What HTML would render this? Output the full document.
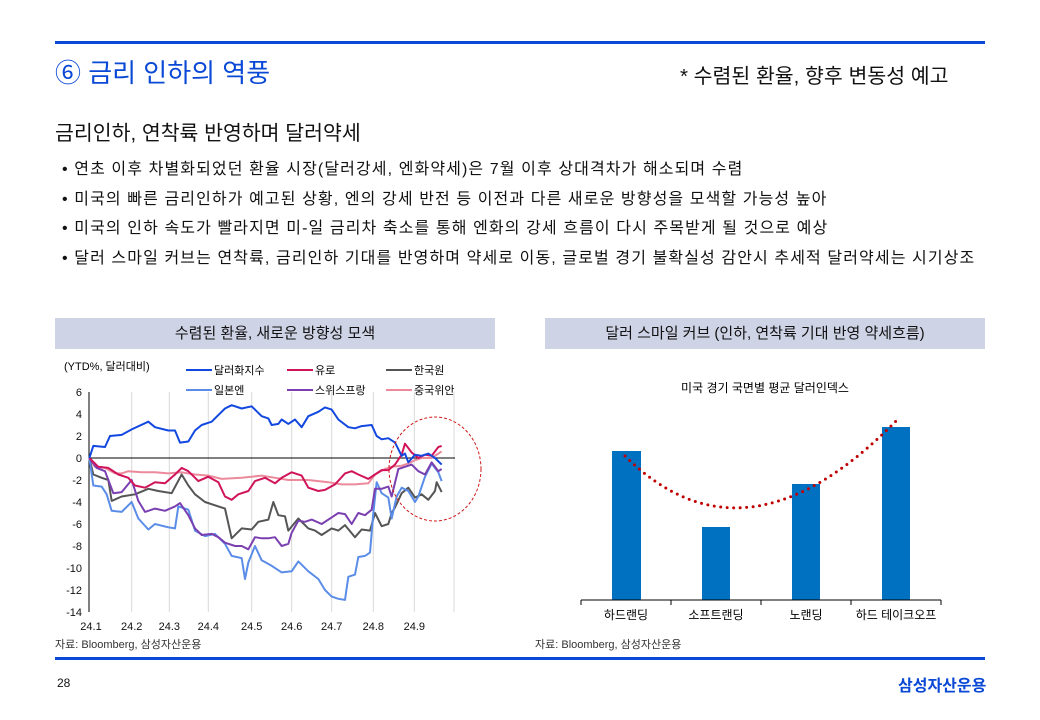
<!DOCTYPE html>
<html><head><meta charset="utf-8"><style>
body{margin:0;background:#fff;width:1040px;height:720px;position:relative;overflow:hidden;font-family:"Liberation Sans","Noto Sans CJK KR",sans-serif;color:#111}
.a{position:absolute;white-space:nowrap}
</style></head><body>
<div class="a" style="left:55px;top:41px;width:930px;height:3px;background:#0a48d6"></div>
<div class="a" style="left:55px;top:53px;font-size:26px;color:#0a48d6">⑥ 금리 인하의 역풍</div>
<div class="a" style="left:680px;top:59px;font-size:20.5px">* 수렴된 환율, 향후 변동성 예고</div>
<div class="a" style="left:55px;top:116px;font-size:20.5px">금리인하, 연착륙 반영하며 달러약세</div>
<div class="a" style="left:62px;top:155px;font-size:16px;letter-spacing:1.1px;line-height:29.5px">
• 연초 이후 차별화되었던 환율 시장(달러강세, 엔화약세)은 7월 이후 상대격차가 해소되며 수렴<br>
• 미국의 빠른 금리인하가 예고된 상황, 엔의 강세 반전 등 이전과 다른 새로운 방향성을 모색할 가능성 높아<br>
• 미국의 인하 속도가 빨라지면 미-일 금리차 축소를 통해 엔화의 강세 흐름이 다시 주목받게 될 것으로 예상<br>
• 달러 스마일 커브는 연착륙, 금리인하 기대를 반영하며 약세로 이동, 글로벌 경기 불확실성 감안시 추세적 달러약세는 시기상조</div>
<div class="a" style="left:55px;top:318px;width:440px;height:31px;background:#cfd3e6;font-size:15px;text-align:center;line-height:31px">수렴된 환율, 새로운 방향성 모색</div>
<div class="a" style="left:545px;top:318px;width:440px;height:31px;background:#cfd3e6;font-size:15px;text-align:center;line-height:31px">달러 스마일 커브 (인하, 연착륙 기대 반영 약세흐름)</div>
<svg class="a" style="left:0;top:0" width="1040" height="720" font-family="Liberation Sans, Noto Sans CJK KR, sans-serif">
<g stroke="#d8d8d8" stroke-width="1">
<line x1="131.7" y1="392" x2="131.7" y2="612"/><line x1="169.3" y1="392" x2="169.3" y2="612"/><line x1="208.3" y1="392" x2="208.3" y2="612"/><line x1="251.7" y1="392" x2="251.7" y2="612"/><line x1="291.7" y1="392" x2="291.7" y2="612"/><line x1="331.7" y1="392" x2="331.7" y2="612"/><line x1="373.3" y1="392" x2="373.3" y2="612"/><line x1="414.3" y1="392" x2="414.3" y2="612"/><line x1="454" y1="392" x2="454" y2="612"/>
</g>
<line x1="89" y1="392" x2="89" y2="612" stroke="#000"/>
<line x1="89" y1="458" x2="455" y2="458" stroke="#000"/>
<g font-size="11" text-anchor="end" fill="#111">
<text x="82" y="396">6</text><text x="82" y="418">4</text><text x="82" y="440">2</text><text x="82" y="462">0</text><text x="82" y="484">-2</text><text x="82" y="506">-4</text><text x="82" y="528">-6</text><text x="82" y="550">-8</text><text x="82" y="572">-10</text><text x="82" y="594">-12</text><text x="82" y="616">-14</text>
</g>
<g font-size="11" text-anchor="middle" fill="#111">
<text x="91" y="630">24.1</text><text x="131.7" y="630">24.2</text><text x="169.3" y="630">24.3</text><text x="208.3" y="630">24.4</text><text x="251.7" y="630">24.5</text><text x="291.7" y="630">24.6</text><text x="331.7" y="630">24.7</text><text x="373.3" y="630">24.8</text><text x="414.3" y="630">24.9</text>
</g>
<text x="64" y="370" font-size="11">(YTD%, 달러대비)</text>
<g font-size="11">
<line x1="186" y1="370" x2="212" y2="370" stroke="#1248e0" stroke-width="2"/><text x="214" y="374">달러화지수</text>
<line x1="287" y1="370" x2="313" y2="370" stroke="#d0145a" stroke-width="2"/><text x="315" y="374">유로</text>
<line x1="386" y1="370" x2="412" y2="370" stroke="#555" stroke-width="2"/><text x="414" y="374">한국원</text>
<line x1="186" y1="390" x2="212" y2="390" stroke="#5b8de8" stroke-width="2"/><text x="214" y="394">일본엔</text>
<line x1="287" y1="390" x2="313" y2="390" stroke="#7a3fb0" stroke-width="2"/><text x="315" y="394">스위스프랑</text>
<line x1="386" y1="390" x2="412" y2="390" stroke="#ec8a9c" stroke-width="2"/><text x="414" y="394">중국위안</text>
</g>
<g transform="translate(55,458) scale(0.33333,-11)" fill="none" stroke-width="2" stroke-linejoin="round">
<polyline vector-effect="non-scaling-stroke" stroke="#ec8a9c" points="103,0 120,-0.8 150,-0.9 180,-1.4 200,-1.4 220,-1.2 260,-1.3 300,-1.3 340,-1.4 380,-1.3 420,-1.5 460,-1.6 500,-1.9 560,-1.8 620,-1.6 660,-1.8 700,-2 760,-2 820,-2.2 860,-2.4 900,-2.4 940,-2.3 960,-1.5 990,-1 1010,-0.8 1040,-0.7 1060,-0.5 1080,-0.2 1100,0 1130,0 1160,0.6"/>
<polyline vector-effect="non-scaling-stroke" stroke="#555" points="103,0 115,-1.5 140,-1.8 160,-2 170,-3.9 200,-3.5 240,-3.3 280,-2.8 310,-3 350,-3.2 380,-1.5 400,-2.5 420,-3.3 450,-4 480,-4.3 510,-4.6 530,-7.3 560,-6.4 590,-6.5 610,-5.8 640,-5.6 655,-4 670,-5.2 690,-5.3 700,-6.6 730,-5.5 760,-6.4 780,-6.6 800,-7 830,-6.4 850,-6.6 870,-6.1 900,-7.2 920,-6.5 945,-6.6 960,-5 980,-6.2 1000,-6 1010,-5 1020,-4.5 1040,-3.2 1060,-2.7 1080,-3.6 1100,-3.3 1120,-3.8 1140,-3 1145,-2.2 1160,-3.1"/>
<polyline vector-effect="non-scaling-stroke" stroke="#5b8de8" points="103,0 115,-2.5 140,-2.6 155,-3.3 170,-4.8 200,-4.9 230,-4 250,-5.5 280,-6.5 300,-6 340,-6.3 360,-6.4 370,-4.4 400,-4.7 420,-6.6 450,-7.1 480,-6.9 510,-7.8 530,-8.9 560,-9.1 570,-11 580,-9.5 600,-8 620,-9.3 650,-9.8 680,-10.4 710,-10.3 730,-9.4 760,-10.3 790,-11 810,-12 830,-12.6 850,-12.8 870,-12.9 880,-10.8 900,-10.6 910,-9 930,-8.9 945,-8.6 955,-5 965,-2.2 980,-3.2 1000,-3.6 1010,-5.5 1025,-3.5 1040,-2.7 1060,-3 1080,-4 1090,-3.5 1110,-1.7 1130,-0.5 1150,-1.3 1160,-2.1"/>
<polyline vector-effect="non-scaling-stroke" stroke="#7a3fb0" points="103,0 125,-0.9 150,-1.2 175,-3.2 200,-3.1 230,-2 250,-3.9 270,-4.9 300,-4.6 330,-4.8 360,-4.4 375,-4.1 400,-5.2 420,-6.4 440,-7 470,-6.9 490,-7.2 510,-7.7 540,-8 560,-8 580,-8.3 600,-7.2 620,-7.3 640,-7.3 660,-7.2 680,-8 700,-7.8 710,-6.8 730,-5.7 750,-5.8 770,-5.6 800,-6 830,-5.4 850,-5 870,-5.1 890,-6 910,-5 930,-5.2 950,-4.7 960,-2.8 980,-2.8 1000,-2.6 1010,-3.5 1030,-1 1050,-0.8 1070,-0.6 1090,-1.2 1110,-1.5 1130,-0.4 1150,-1.2 1160,-1"/>
<polyline vector-effect="non-scaling-stroke" stroke="#d0145a" points="103,0 130,-0.8 160,-0.9 190,-1.5 220,-1.8 240,-2.5 270,-2.7 300,-2.2 330,-2.3 360,-1.5 380,-0.9 400,-1.2 430,-2.1 460,-1.7 490,-2.2 510,-3.5 530,-3.8 550,-3.3 580,-3 600,-2.1 630,-1.8 660,-2.3 680,-1.8 710,-1.3 740,-1.6 760,-2.7 790,-3 810,-2.9 840,-2.4 870,-1.4 890,-1.2 910,-1.5 940,-1.9 960,-1.5 980,-1.1 1000,-1.1 1020,-0.6 1040,0.3 1050,1.3 1070,0.5 1090,0 1110,0.3 1130,0.2 1150,1 1160,1.1"/>
<polyline vector-effect="non-scaling-stroke" stroke="#1248e0" points="103,0 115,1.1 150,1 165,2 200,2.1 230,2.6 280,3.3 300,2.8 340,2.5 360,2.5 375,1.4 400,1.5 420,2.5 440,3 470,3.3 490,3.9 510,4.5 530,4.8 560,4.5 590,4.7 620,3.8 640,3.6 650,3 670,3.1 680,3.5 700,3.1 720,3.5 740,2.8 760,3.8 790,4.2 810,4.6 830,4.4 850,3.5 880,2.8 900,2.7 920,2.9 950,3 965,2 980,1.7 1000,1.8 1020,1.4 1030,0.8 1040,0.2 1050,0.4 1060,-0.4 1080,0.3 1100,0.2 1120,0.4 1140,0 1160,-0.6"/>
</g>
<ellipse cx="435" cy="469" rx="46" ry="52" fill="none" stroke="#d01818" stroke-width="1" stroke-dasharray="3,2"/>
<text x="765" y="392" font-size="12" text-anchor="middle">미국 경기 국면별 평균 달러인덱스</text>
<g fill="#0070c0">
<rect x="612" y="451" width="29" height="149"/><rect x="702" y="527" width="28" height="73"/><rect x="792" y="484" width="28" height="116"/><rect x="882" y="427" width="28" height="173"/>
</g>
<g stroke="#000"><line x1="581" y1="600" x2="941" y2="600"/><line x1="581" y1="600" x2="581" y2="605"/><line x1="671" y1="600" x2="671" y2="605"/><line x1="761" y1="600" x2="761" y2="605"/><line x1="851" y1="600" x2="851" y2="605"/><line x1="941" y1="600" x2="941" y2="605"/></g>
<path d="M625,456 Q745,575 896,421" fill="none" stroke="#c00000" stroke-width="3" stroke-linecap="round" stroke-dasharray="0,6.5"/>
<g font-size="12" text-anchor="middle"><text x="626" y="619">하드랜딩</text><text x="716" y="619">소프트랜딩</text><text x="806" y="619">노랜딩</text><text x="896" y="619">하드 테이크오프</text></g>
<text x="55" y="648" font-size="11" fill="#333">자료: Bloomberg, 삼성자산운용</text>
<text x="535" y="648" font-size="11" fill="#333">자료: Bloomberg, 삼성자산운용</text>
</svg>
<div class="a" style="left:55px;top:657px;width:930px;height:3px;background:#0a48d6"></div>
<div class="a" style="left:57px;top:676px;font-size:12px">28</div>
<div class="a" style="left:898px;top:672px;font-size:16px;font-weight:bold;color:#0a48d6">삼성자산운용</div>
</body></html>
